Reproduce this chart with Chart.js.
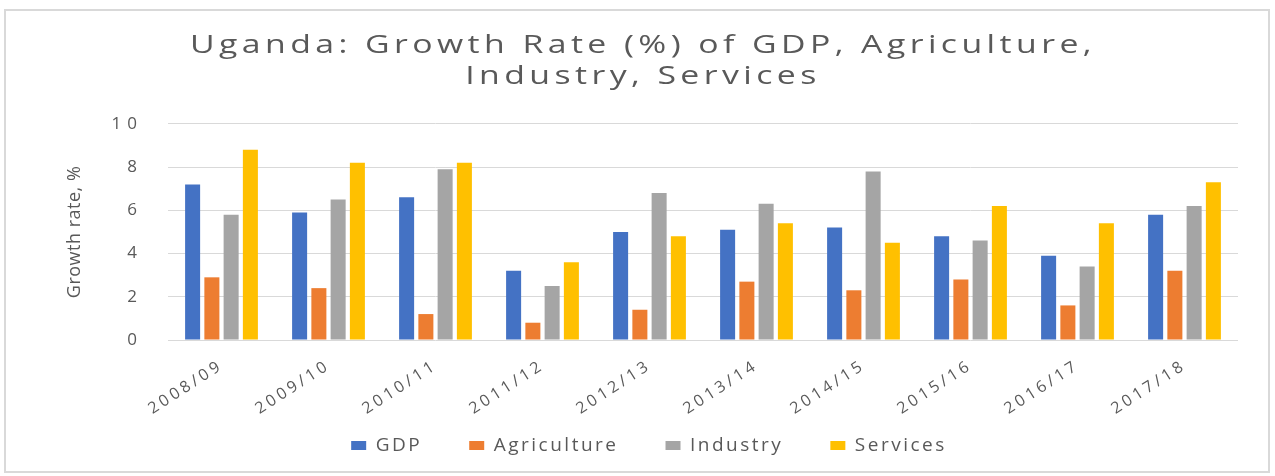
<!DOCTYPE html>
<html>
<head>
<meta charset="utf-8">
<script src="https://cdn.jsdelivr.net/npm/chart.js@4"></script>
<style>
  html, body { margin: 0; padding: 0; background: #fff; overflow: hidden; }
  #box { position: relative; width: 1275px; height: 476px; }
  #frame { position: absolute; left: 4px; top: 9px; width: 1262px; height: 460px;
           border: 2px solid #d9d9d9; pointer-events: none; }
</style>
</head>
<body>
<div id="box">
  <canvas id="growthChart"></canvas>
  <div id="frame"></div>
</div>
<script>
// Uganda sector growth rates
const years = ['2008/09', '2009/10', '2010/11', '2011/12', '2012/13',
               '2013/14', '2014/15', '2015/16', '2016/17', '2017/18'];
const gdp = [7.2, 5.9, 6.6, 3.2, 5.0, 5.1, 5.2, 4.8, 3.9, 5.8];
const agriculture = [2.9, 2.4, 1.2, 0.8, 1.4, 2.7, 2.3, 2.8, 1.6, 3.2];
const industry = [5.8, 6.5, 7.9, 2.5, 6.8, 6.3, 7.8, 4.6, 3.4, 6.2];
const services = [8.8, 8.2, 8.2, 3.6, 4.8, 5.4, 4.5, 6.2, 5.4, 7.3];
const yTicks = [0, 2, 4, 6, 8, 10];

const textColor = '#595959';
const font = 'Open Sans';

// the picture's text is wide and tracked: wrap some draw calls with
// letterSpacing and, for the title, a horizontal stretch about its centre
function track(obj, name, spacing, sx, shift) {
  if (!obj || obj['_tracked_' + name]) return;
  const orig = obj[name];
  obj['_tracked_' + name] = true;
  obj[name] = function () {
    const ctx = this.ctx;
    ctx.save();
    ctx.letterSpacing = spacing;
    if (sx) {
      const cx = (this.left + this.right) / 2;
      ctx.translate(cx + (shift || 0), 0);
      ctx.scale(sx, 1);
      ctx.translate(-cx, 0);
    }
    const r = orig.apply(this, arguments);
    ctx.restore();
    return r;
  };
}

const tracking = {
  id: 'tracking',
  beforeLayout(chart) {
    track(chart.titleBlock, 'draw', '3.4px', 1.3, -6);
    track(chart.legend, 'fit', '2.5px');
    track(chart.legend, 'draw', '2.5px');
    track(chart.scales.x, 'drawLabels', '3.5px');
    track(chart.scales.y, 'drawLabels', '6px');
    track(chart.scales.y, 'drawTitle', '0.5px');
    // rotated year labels reach down past the short x axis box, don't clip them
    if (chart.scales.x) chart.scales.x._computeLabelArea = () => null;
  }
};

function bars(label, data, color) {
  return {
    label: label,
    data: data,
    backgroundColor: color,
    borderWidth: 0,
    categoryPercentage: 0.72,
    barPercentage: 0.78
  };
}

new Chart(document.getElementById('growthChart'), {
  type: 'bar',
  data: {
    labels: years,
    datasets: [
      bars('GDP', gdp, '#4472C4'),
      bars('Agriculture', agriculture, '#ED7D31'),
      bars('Industry', industry, '#A5A5A5'),
      bars('Services', services, '#FFC000')
    ]
  },
  plugins: [tracking],
  options: {
    responsive: true,
    maintainAspectRatio: false,
    animation: false,
    layout: { padding: { left: 60, right: 37, top: 0, bottom: 11 } },
    plugins: {
      title: {
        display: true,
        text: ['Uganda: Growth Rate (%) of GDP, Agriculture,', 'Industry, Services'],
        color: textColor,
        font: { family: font, size: 26, weight: 'normal', lineHeight: 1.19 },
        padding: { top: 30, bottom: 32 }
      },
      legend: {
        position: 'bottom',
        labels: {
          color: textColor,
          font: { family: font, size: 19 },
          boxWidth: 15,
          boxHeight: 9,
          padding: 47
        }
      },
      tooltip: { enabled: false }
    },
    scales: {
      x: {
        grid: { display: false },
        border: { display: false },
        ticks: {
          color: textColor,
          font: { family: font, size: 16 },
          maxRotation: 33,
          minRotation: 33,
          padding: 8,
          autoSkip: false
        },
        afterFit(scale) { scale.height = 49; }
      },
      y: {
        min: 0,
        max: 10,
        afterBuildTicks(scale) { scale.ticks = yTicks.map(v => ({ value: v })); },
        grid: { color: '#d9d9d9', lineWidth: 1, drawTicks: false },
        border: { display: false },
        ticks: {
          color: textColor,
          font: { family: font, size: 17 },
          padding: 25
        },
        title: {
          display: true,
          text: 'Growth rate, %',
          color: textColor,
          font: { family: font, size: 18 },
          padding: { top: 4, bottom: 4 }
        },
        afterFit(scale) { scale.width = 108; }
      }
    }
  }
});
</script>
</body>
</html>
